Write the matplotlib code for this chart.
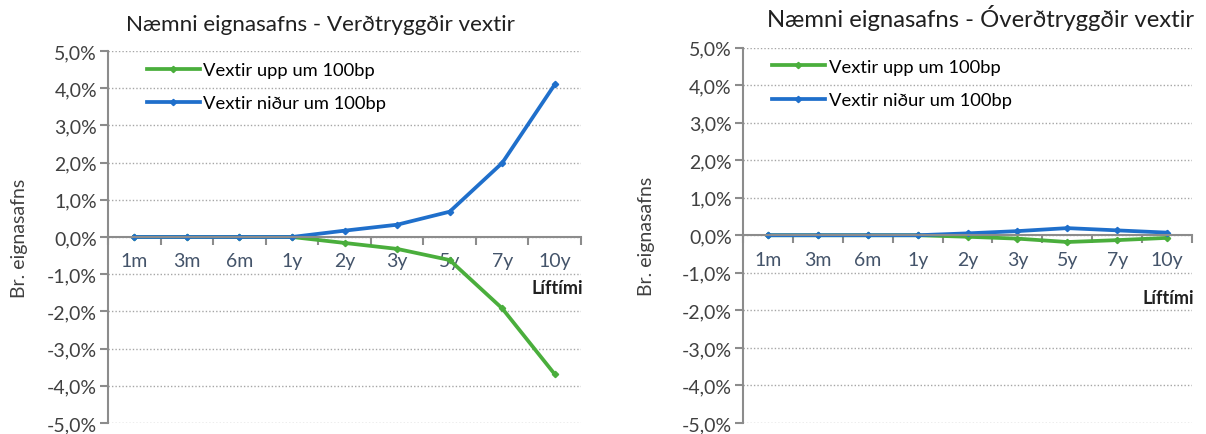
import numpy as np
import matplotlib
matplotlib.use("Agg")
import matplotlib.pyplot as plt
from matplotlib.ticker import FuncFormatter

plt.rcParams['font.family'] = ['Lato', 'DejaVu Sans']

categories = ['1m', '3m', '6m', '1y', '2y', '3y', '5y', '7y', '10y']

# Verðtryggðir vextir (%)
vt_upp = [0, 0, 0, 0, -0.16, -0.32, -0.62, -1.92, -3.69]
vt_nidur = [0, 0, 0, 0, 0.17, 0.33, 0.68, 1.99, 4.10]

# Óverðtryggðir vextir (%)
ov_upp = [0, 0, 0, 0, -0.04, -0.09, -0.18, -0.13, -0.07]
ov_nidur = [0, 0, 0, 0, 0.05, 0.11, 0.19, 0.13, 0.07]

titles = ['Næmni eignasafns - Verðtryggðir vextir',
          'Næmni eignasafns - Óverðtryggðir vextir']
labels = ['Vextir upp um 100bp', 'Vextir niður um 100bp']

green = '#4AAE3C'
blue = '#1F6FCB'
axis_gray = '#8C8C8C'

fig = plt.figure(figsize=(12.06, 4.35), dpi=100)
ax1 = fig.add_axes([0.0896, 0.0253, 0.3922, 0.8552])
ax2 = fig.add_axes([0.6161, 0.0253, 0.3723, 0.8632])

pct = FuncFormatter(lambda v, p: f'{v:.1f}%'.replace('.', ','))


def draw(ax, upp, nidur, title, title_x, title_size, ylab_x, lif_y, leg_anchor):
    x = np.arange(len(categories))
    ax.plot(x, upp, color=green, lw=2.7, marker='D', ms=3.2, label=labels[0])
    ax.plot(x, nidur, color=blue, lw=2.7, marker='D', ms=3.2, label=labels[1])
    ax.set_xlim(-0.5, len(categories) - 0.5)
    ax.set_ylim(-5, 5)
    ax.set_yticks(np.arange(-5, 6, 1))
    ax.yaxis.set_major_formatter(pct)
    ax.grid(axis='y', linestyle=(0, (1, 1.5)), color='#A6A6A6', lw=1)
    ax.set_axisbelow(True)
    for s in ['top', 'right']:
        ax.spines[s].set_visible(False)
    ax.spines['bottom'].set_position(('data', 0))
    for s in ['left', 'bottom']:
        ax.spines[s].set_color(axis_gray)
        ax.spines[s].set_linewidth(1.5)
    ax.set_xticks(x)
    ax.set_xticklabels(categories)
    ax.set_xticks(np.arange(-0.5, len(categories), 1), minor=True)
    ax.tick_params(axis='x', which='major', length=0, pad=11,
                   labelsize=14, labelcolor='#44546A')
    ax.tick_params(axis='x', which='minor', length=6, width=1.5,
                   color=axis_gray, direction='out')
    ax.tick_params(axis='y', length=6, width=1.5, color=axis_gray,
                   labelsize=14, labelcolor='#404040', pad=2)
    ax.set_title(title, fontsize=title_size, color='#202020', x=title_x, y=1.035)
    ax.set_ylabel('Br. eignasafns', fontsize=14, color='#404040')
    ax.yaxis.set_label_coords(ylab_x, 0.5)
    ax.text(1.005, lif_y, 'Líftími', transform=ax.transAxes, ha='right',
            va='center', fontsize=13, fontweight='bold', color='#202020')
    ax.legend(loc='upper left', bbox_to_anchor=leg_anchor, frameon=False,
              fontsize=13.2, handlelength=2.9, handletextpad=0.2,
              labelspacing=0.95, borderaxespad=0)


draw(ax1, vt_upp, vt_nidur, titles[0], 0.45, 16.2, -0.17, 0.365, (0.066, 0.99))
draw(ax2, ov_upp, ov_nidur, titles[1], 0.53, 17.2, -0.195, 0.335, (0.048, 0.99))

fig.savefig('out.png', dpi=100)
